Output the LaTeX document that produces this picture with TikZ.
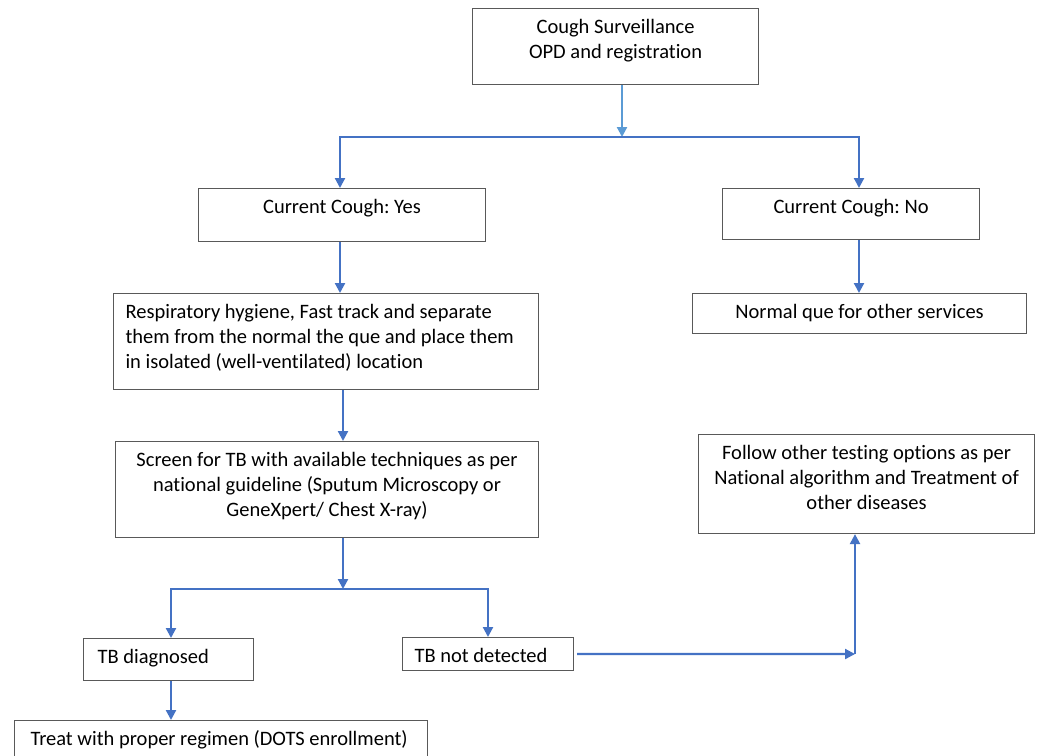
\documentclass[tikz,border=0pt]{standalone}
\usepackage{fontspec}
\setmainfont{Carlito}[Ligatures=NoCommon]
\usetikzlibrary{arrows.meta}
\definecolor{arrowblue}{HTML}{4472C4}
\definecolor{lightblue}{HTML}{5B9BD5}
\definecolor{boxgray}{HTML}{595959}
\frenchspacing
\newcommand{\bxc}[3]{\parbox[c][#2pt][t]{#1pt}{\centering\vspace*{7pt}\strut #3\par}}
\newcommand{\bxl}[3]{\parbox[c][#2pt][t]{#1pt}{\raggedright\vspace*{7pt}\strut #3\par}}
\begin{document}
\begin{tikzpicture}[x=1pt,y=-1pt,
  box/.style={draw=boxgray, line width=1.1pt, inner xsep=12pt, inner ysep=0pt,
    anchor=north west, font=\fontsize{20.5}{25}\selectfont},
  conn/.style={draw=arrowblue, line width=2.2pt},
  arr/.style={conn, -{Triangle[length=10pt,width=10pt]}}]
\useasboundingbox (0,0) rectangle (1040,755);
\clip (0,0) rectangle (1040,755);
\fill[white] (0,0) rectangle (1040,755);

\node[box] (top) at (472,8) {\bxc{262}{76}{Cough Surveillance\\OPD and registration}};
\node[box] (yes) at (198,188) {\bxc{263}{53}{Current Cough: Yes}};
\node[box] (no) at (722,188) {\bxc{233}{51}{Current Cough: No}};
\node[box] (resp) at (113,293) {\bxl{401}{96}{Respiratory hygiene, Fast track and separate\\them from the normal the que and place them\\in isolated (well-ventilated) location}};
\node[box] (normal) at (692,293) {\bxc{310}{40}{Normal que for other services}};
\node[box] (screen) at (115,441) {\bxc{399}{96}{Screen for TB with available techniques as per\\national guideline (Sputum Microscopy or\\GeneXpert/ Chest X-ray)}};
\node[box] (follow) at (698,434) {\bxc{312}{99}{Follow other testing options as per\\National algorithm and Treatment of\\other diseases}};
\node[box, inner xsep=14pt] (tbd) at (83,638) {\bxl{142}{42}{TB diagnosed}};
\node[box] (tbn) at (402,637) {\bxl{147}{33}{TB not detected}};
\node[box, inner xsep=16pt] (treat) at (14,720) {\bxl{381}{70}{Treat with proper regimen (DOTS enrollment)}};

\coordinate (s1) at (622,137);
\coordinate (s1L) at (340,137);
\coordinate (s1R) at (859,137);
\coordinate (s2) at (343,589);
\coordinate (s2L) at (171,589);
\coordinate (s2R) at (488,589);
\coordinate (e) at (855,654);

\draw[arr, draw=lightblue] (top.south -| s1) -- (s1);
\draw[arr] (s1) -- (s1L) -- (s1L |- yes.north);
\draw[arr] (s1) -- (s1R) -- (s1R |- no.north);
\draw[arr] (yes.south -| s1L) -- (s1L |- resp.north);
\draw[arr] (no.south -| s1R) -- (s1R |- normal.north);
\draw[arr] (resp.south -| s2) -- (s2 |- screen.north);
\draw[arr] (screen.south -| s2) -- (s2);
\draw[arr] (s2) -- (s2L) -- (s2L |- tbd.north);
\draw[arr] (s2) -- (s2R) -- (s2R |- tbn.north);
\draw[arr] (tbd.south -| s2L) -- (s2L |- treat.north);
\draw[arr] ([xshift=3pt]tbn.east) -- (e);
\draw[arr] (e) -- (e |- follow.south);
\end{tikzpicture}
\end{document}
